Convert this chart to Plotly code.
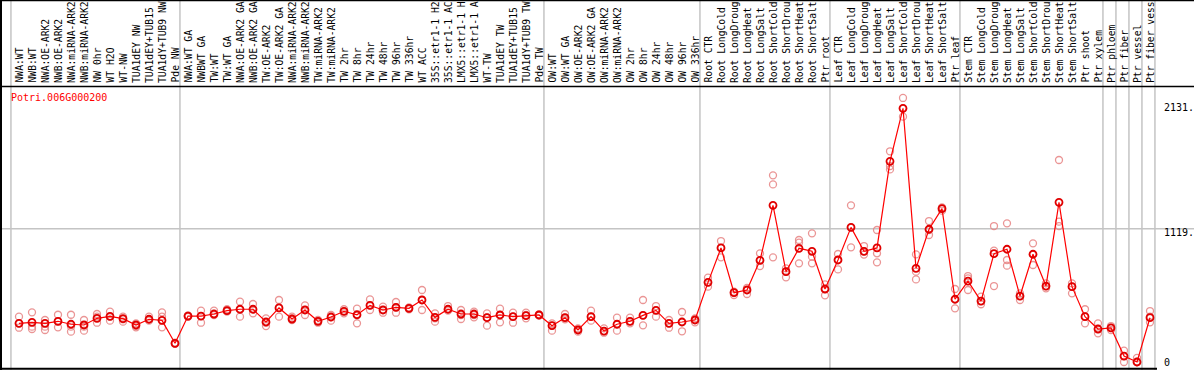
import plotly.graph_objects as go

labels = [
    "NWA:WT", "NWB:WT", "NWA:OE-ARK2", "NWB:OE-ARK2", "NWA:miRNA-ARK2", "NWB:miRNA-ARK2",
    "NW 0hr", "WT H2O", "WT-NW", "TUA1dEY NW", "TUA1dEY+TUB15 NW", "TUA1dY+TUB9 NW", "Pde NW",
    "NWA:WT GA", "NWBWT GA", "TW:WT", "TW:WT GA", "NWA:OE-ARK2 GA", "NWB:OE-ARK2 GA",
    "TW:OE-ARK2", "TW:OE-ARK2 GA", "NWA:miRNA-ARK2 GA", "NWB:miRNA-ARK2 GA", "TW:miRNA-ARK2",
    "TW:miRNA-ARK2 GA", "TW 2hr", "TW 8hr", "TW 24hr", "TW 48hr", "TW 96hr", "TW 336hr",
    "WT ACC", "35S::etr1-1 H2O", "35S::etr1-1 ACC", "LMX5::etr1-1 H2O", "LMX5::etr1-1 ACC",
    "WT-TW", "TUA1dEY TW", "TUA1dEY+TUB15 TW", "TUA1dY+TUB9 TW", "Pde TW",
    "OW:WT", "OW:WT GA", "OW:OE-ARK2", "OW:OE-ARK2 GA", "OW:miRNA-ARK2", "OW:miRNA-ARK2 GA",
    "OW 2hr", "OW 8hr", "OW 24hr", "OW 48hr", "OW 96hr", "OW 336hr",
    "Root CTR", "Root LongCold", "Root LongDrought", "Root LongHeat", "Root LongSalt",
    "Root ShortCold", "Root ShortDrought", "Root ShortHeat", "Root ShortSalt", "Ptr root",
    "Leaf CTR", "Leaf LongCold", "Leaf LongDrought", "Leaf LongHeat", "Leaf LongSalt",
    "Leaf ShortCold", "Leaf ShortDrought", "Leaf ShortHeat", "Leaf ShortSalt", "Ptr leaf",
    "Stem CTR", "Stem LongCold", "Stem LongDrought", "Stem LongHeat", "Stem LongSalt",
    "Stem ShortCold", "Stem ShortDrought", "Stem ShortHeat", "Stem ShortSalt", "Ptr shoot",
    "Ptr xylem", "Ptr phloem", "Ptr fiber", "Ptr vessel", "Ptr fiber vessel",
]

means = [
    325, 333, 325, 342, 317, 311, 367, 384, 364, 311, 359, 350, 157,
    386, 386, 403, 431, 443, 443, 336, 454, 361, 437, 342, 378, 426, 397, 476,
    437, 459, 451, 521, 375, 443, 403, 403, 372, 395, 381, 389, 395,
    305, 372, 269, 381, 260, 317, 342, 392, 434, 325, 336, 353,
    669, 958, 582, 605, 854, 1316, 759, 955, 930, 613,
    857, 1131, 930, 958, 1686, 2131, 787, 1115, 1288, 527,
    680, 512, 910, 947, 554, 905, 638, 1341, 633, 381, 277,
    286, 50, 0, 372,
]

rep_a = [
    381, 417, 353, 397, 397, 353, 403, 423, 381, 325, 381, 417, 162,
    392, 431, 431, 443, 507, 487, 367, 521, 381, 476, 353, 395, 443, 448, 526,
    465, 504, 459, 605, 409, 470, 437, 423, 409, 448, 414, 414, 400,
    325, 403, 283, 431, 283, 372, 372, 521, 470, 353, 420, 367,
    708, 1016, 591, 622, 913, 1568, 787, 1025, 1081, 652,
    907, 1316, 974, 1109, 1770, 2218, 904, 1184, 1299, 613,
    722, 549, 1142, 1165, 577, 997, 661, 1697, 661, 443, 325,
    302, 95, 35, 428,
]

rep_b = [
    325, 297, 297, 342, 297, 297, 381, 381, 359, 302, 359, 381, 157,
    386, 386, 403, 431, 443, 443, 330, 454, 367, 437, 342, 375, 426, 392, 476,
    437, 459, 451, 521, 367, 443, 395, 395, 375, 395, 381, 395, 395,
    305, 372, 269, 381, 260, 317, 342, 392, 434, 325, 336, 353,
    669, 958, 582, 605, 854, 1492, 759, 1002, 885, 613,
    857, 1131, 930, 913, 1646, 2131, 759, 1109, 1288, 527,
    703, 512, 935, 857, 554, 905, 638, 1179, 633, 381, 277,
    286, 50, 0, 381,
]

rep_c = [
    288, 277, 269, 291, 255, 263, 330, 347, 339, 291, 347, 291, 152,
    380, 330, 395, 423, 381, 409, 302, 381, 353, 395, 330, 347, 409, 325, 437,
    414, 414, 443, 437, 339, 431, 361, 375, 305, 333, 330, 367, 390,
    263, 359, 255, 347, 246, 263, 325, 308, 381, 288, 258, 333,
    633, 879, 563, 571, 806, 879, 711, 829, 829, 560,
    778, 963, 902, 837, 1618, 2061, 694, 1067, 1271, 451,
    605, 485, 638, 809, 521, 815, 619, 1142, 577, 325, 241,
    269, 0, 0, 333,
]

# group boundaries: index of first category of each group
group_starts = [0, 13, 41, 53, 63, 73, 84, 85, 86, 87, 88]
axis_labels = ["2131.", "1119.", "0"]
axis_values = [2131, 1119, 0]
gene = "Potri.006G000200"
MAX_CHARS = 14  # the header shows at most 14 characters per label

W, H = 1194, 370
x_pos = list(range(len(labels)))
FONT = "DejaVu Sans Mono"

fig = go.Figure()

rep_x = x_pos * 3
rep_y = rep_a + rep_b + rep_c
fig.add_trace(go.Scatter(
    x=rep_x, y=rep_y, mode="markers",
    marker=dict(symbol="circle-open", size=7, color="rgba(230,130,130,0.85)",
                line=dict(width=1.3, color="rgba(230,130,130,0.85)")),
    hoverinfo="skip", showlegend=False,
))
fig.add_trace(go.Scatter(
    x=x_pos, y=means, mode="lines+markers",
    line=dict(color="#ff0000", width=1.2),
    marker=dict(symbol="circle-open", size=7, color="#e00000",
                line=dict(width=1.8, color="#e00000")),
    showlegend=False,
))

shapes = []
for g in group_starts:
    shapes.append(dict(type="line", xref="x", yref="paper", x0=g - 0.62, x1=g - 0.62,
                       y0=0, y1=1, line=dict(color="#c4c4c4", width=1.5), layer="below"))
shapes.append(dict(type="line", xref="paper", yref="y", x0=0, x1=1, y0=1119, y1=1119,
                   line=dict(color="#c4c4c4", width=1.5), layer="below"))
# black frame lines
shapes.append(dict(type="line", xref="paper", yref="paper", x0=0, x1=1,
                   y0=1 - 86.5 / H, y1=1 - 86.5 / H, line=dict(color="black", width=1.5)))
shapes.append(dict(type="line", xref="paper", yref="paper", x0=0, x1=1,
                   y0=1 - 0.5 / H, y1=1 - 0.5 / H, line=dict(color="black", width=1.5)))
shapes.append(dict(type="line", xref="paper", yref="paper", x0=1 / W, x1=1 / W,
                   y0=0, y1=1, line=dict(color="black", width=2)))
shapes.append(dict(type="line", xref="paper", yref="paper", x0=0, x1=1157 / W,
                   y0=1.2 / H, y1=1.2 / H, line=dict(color="black", width=2)))

annotations = []
for i, lab in enumerate(labels):
    annotations.append(dict(x=i, xref="x", y=1 - 85 / H, yref="paper",
                            text=lab[:MAX_CHARS].rstrip(),
                            textangle=-90, xanchor="center", yanchor="bottom",
                            showarrow=False, font=dict(family=FONT, size=9.7, color="black")))
annotations.append(dict(x=9 / W, xref="paper", y=1 - 97 / H, yref="paper", text=gene,
                        xanchor="left", yanchor="middle", showarrow=False,
                        font=dict(family=FONT, size=10, color="#ff0000")))
shifts = [1, -4, 0]
for lab, v, s in zip(axis_labels, axis_values, shifts):
    annotations.append(dict(x=1162 / W, xref="paper", y=v, yref="y", text=lab,
                            xanchor="left", yanchor="middle", yshift=s, showarrow=False,
                            font=dict(family=FONT, size=10, color="black")))

fig.update_layout(
    width=W, height=H, margin=dict(l=0, r=0, t=0, b=0),
    paper_bgcolor="white", plot_bgcolor="white",
    xaxis=dict(range=[-19 / 13, (W - 19) / 13], visible=False, fixedrange=True),
    yaxis=dict(range=[-8 * 8.4, 362 * 8.4], visible=False, fixedrange=True),
    shapes=shapes, annotations=annotations, showlegend=False,
)

fig.write_html(
    "out.html",
    config={"displayModeBar": False},
    post_script="document.body.style.margin='0';document.body.style.overflow='hidden';",
)
